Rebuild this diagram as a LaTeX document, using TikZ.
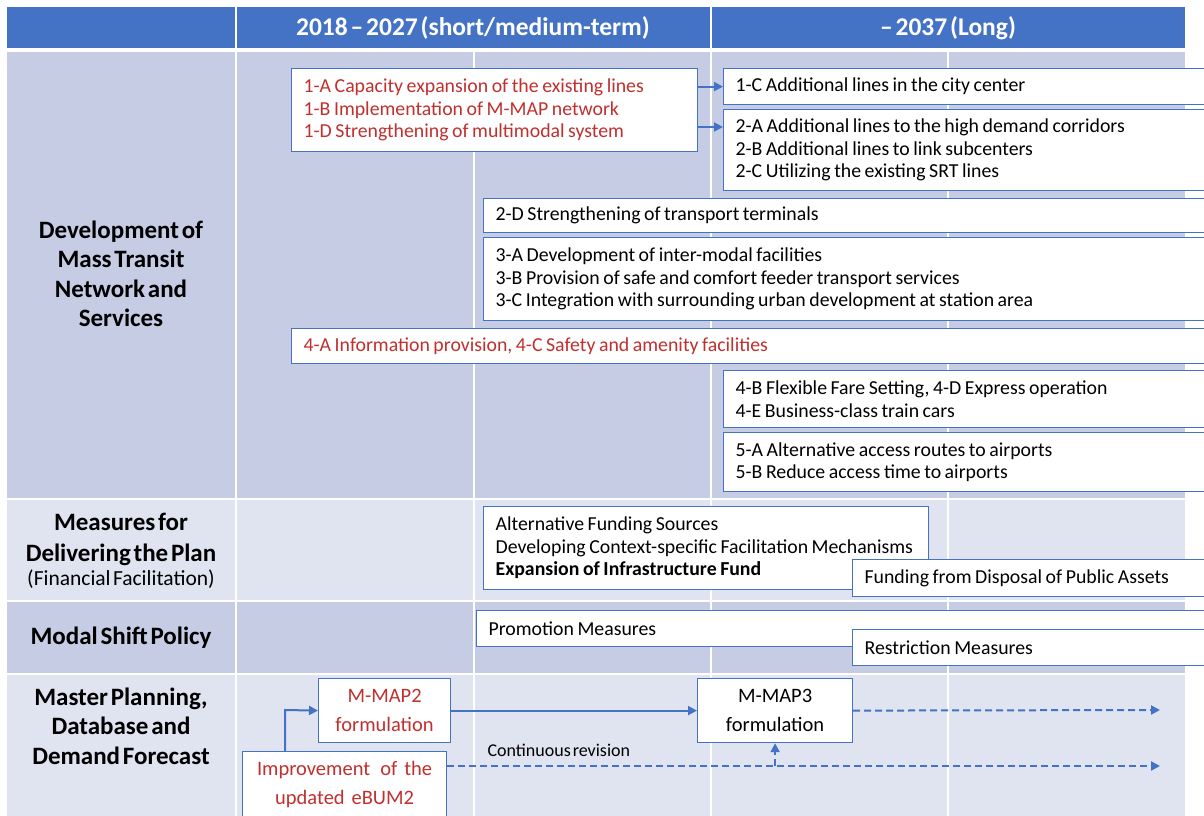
\documentclass[tikz,border=0pt]{standalone}
\usepackage{fontspec}
\setmainfont{Carlito}
\newcommand{\tightsp}{\spaceskip=0.11em plus 0.05em\relax}
\newcommand{\boxsp}{\spaceskip=0.18em plus 0.05em\relax}
\usetikzlibrary{arrows.meta}
\definecolor{hblue}{HTML}{4472C4}
\definecolor{rowdark}{HTML}{C5CCE4}
\definecolor{rowlight}{HTML}{E0E4F0}
\definecolor{txtred}{HTML}{C0302F}
\begin{document}
\begin{tikzpicture}[x=1pt,y=-1pt,
  box/.style={draw=hblue, line width=1.2pt, fill=white, inner xsep=12pt, inner ysep=0pt,
    anchor=north west, align=flush left, font=\fontsize{19.8}{22.5}\selectfont\boxsp},
  cbox/.style={draw=hblue, line width=1.2pt, fill=white, inner xsep=4pt, inner ysep=0pt,
    anchor=north west, align=center, font=\fontsize{20.5}{29}\selectfont},
  head/.style={text=white, font=\bfseries\fontsize{25.5}{28}\selectfont\tightsp},
  rowlab/.style={align=center, font=\bfseries\fontsize{25}{29.5}\selectfont\tightsp},
  arr/.style={draw=hblue, line width=2pt, -{Triangle[length=9pt,width=9pt]}},
  darr/.style={draw=hblue, line width=2pt, dash pattern=on 7pt off 4pt, -{Triangle[length=9pt,width=9pt]}},
  sep/.style={draw=white, line width=2pt}]
\useasboundingbox (0,0) rectangle (1204,816);
\clip (0,0) rectangle (1204,816);
\fill[white] (0,0) rectangle (1204,816);
% header
\fill[hblue] (7,7) rectangle (235,48);
\fill[hblue] (237,7) rectangle (710,48);
\fill[hblue] (712,7) rectangle (1185,48);
\node[head] (h1) at (473,28) {2018 – 2027 (short/medium-term)};
\node[head] (h2) at (948,28) {– 2037 (Long)};
% rows
\fill[rowdark] (7,52) rectangle (1185,498);
\fill[rowlight] (7,500) rectangle (1185,600);
\fill[rowdark] (7,602) rectangle (1185,673);
\fill[rowlight] (7,675) rectangle (1185,820);
\foreach \x in {236,474,711,948} \draw[sep] (\x,50) -- (\x,820);
% row labels
\node[rowlab] (r1) at (121,274) {Development of\\Mass Transit\\Network and\\Services};
\node[rowlab, anchor=north] (r2) at (121,510) {Measures for\\[1pt]Delivering the Plan\\[-5pt]{\mdseries\fontsize{21.5}{24}\selectfont\tightsp(Financial Facilitation)}};
\node[rowlab] (r3) at (121,638) {Modal Shift Policy};
\node[rowlab] (r4) at (121,726) {Master Planning,\\Database and\\Demand Forecast};
% boxes row 1
\node[box, text=txtred, text width=382pt, minimum height=83pt] (A) at (291,68)
  {1-A Capacity expansion of the existing lines\\1-B Implementation of M-MAP network\\1-D Strengthening of multimodal system};
\node[box, text width=476pt, minimum height=36pt] (c1) at (723,68) {1-C Additional lines in the city center};
\node[box, text width=476pt, minimum height=81pt] (b2) at (723,109)
  {2-A Additional lines to the high demand corridors\\2-B Additional lines to link subcenters\\2-C Utilizing the existing SRT lines};
\node[box, text width=716pt, minimum height=34pt] (d2) at (483,198) {2-D Strengthening of transport terminals};
\node[box, text width=716pt, minimum height=83pt] (b3) at (483,237)
  {3-A Development of inter-modal facilities\\3-B Provision of safe and comfort feeder transport services\\3-C Integration with surrounding urban development at station area};
\node[box, text=txtred, text width=906pt, minimum height=35pt] (b4a) at (291,328) {4-A Information provision, 4-C Safety and amenity facilities};
\node[box, text width=476pt, minimum height=57pt] (b4b) at (723,370) {4-B Flexible Fare Setting, 4-D Express operation\\4-E Business-class train cars};
\node[box, text width=476pt, minimum height=59pt] (b5) at (723,432) {5-A Alternative access routes to airports\\5-B Reduce access time to airports};
% row 2
\node[box, text width=421pt, minimum height=83pt] (fund) at (483,506)
  {Alternative Funding Sources\\Developing Context-specific Facilitation Mechanisms\\\textbf{\boxsp Expansion of Infrastructure Fund}};
\node[box, text width=346pt, minimum height=37pt] (disp) at (852,559) {Funding from Disposal of Public Assets};
% row 3
\node[box, text width=726pt, minimum height=36pt] (prom) at (476,610) {Promotion Measures};
\node[box, text width=346pt, minimum height=36pt] (restr) at (852,629) {Restriction Measures};
% row 4
\node[cbox, text=txtred, text width=124pt, minimum height=64pt] (m2) at (318,678) {M-MAP2\\formulation};
\node[cbox, text width=147pt, minimum height=64pt] (m3) at (697,678) {M-MAP3\\formulation};
\node[cbox, text=txtred, text width=196pt, minimum height=66pt] (imp) at (242,751) {Improvement\enspace of the\\updated eBUM2};
\node[anchor=west, font=\fontsize{18}{20}\selectfont\tightsp] (cr) at (484,750) {Continuous revision};
% coordinates
\coordinate (a2) at (710,127);
\coordinate (k1) at (285,710);
\coordinate (e1) at (1160,710);
\coordinate (e2) at (1160,766);
% connectors
\draw[arr] (c1.west -| A.east) -- (c1.west);
\draw[arr] (a2 -| A.east) -- (a2 -| b2.west);
\draw[arr] (imp.north -| k1) -- (k1) -- (m2.west);
\draw[arr] (m2.east) -- (m3.west);
\draw[darr] (m3.east) -- (e1);
\draw[darr] (e2 -| imp.east) -- (e2);
\draw[darr] (m3.south |- e2) -- (m3.south);
\end{tikzpicture}
\end{document}
